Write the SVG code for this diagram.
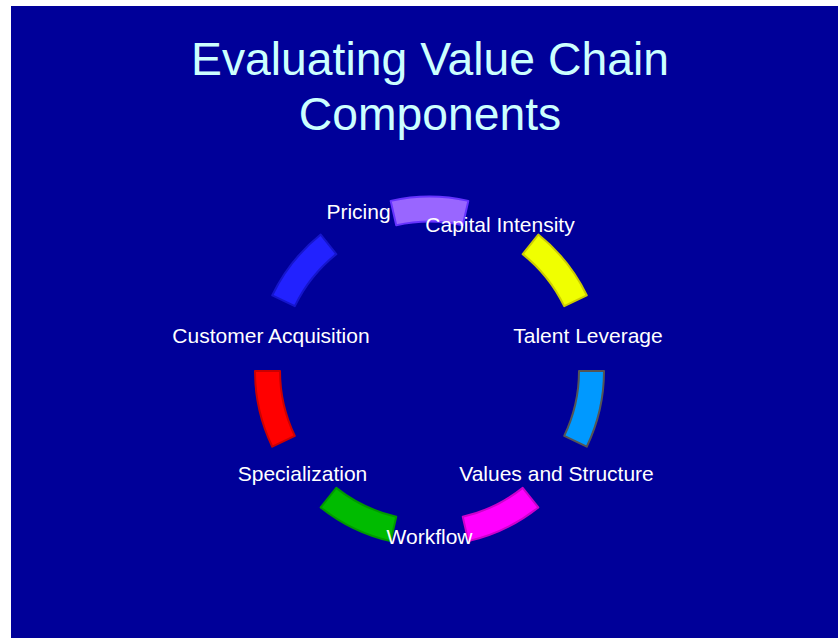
<svg xmlns="http://www.w3.org/2000/svg" width="838" height="638" viewBox="0 0 838 638">
  <defs>
    <path id="seg" d="M390.67,200.87 A174.5,174.5 0 0 1 468.33,200.87 L462.77,225.25 A149.5,149.5 0 0 0 396.23,225.25 Z"/>
  </defs>
  <style>
    .title { font-family: "Liberation Sans", Arial, sans-serif; font-size: 46.3px; fill: #CCFFFF; text-anchor: middle; }
    .lbl { font-family: "Liberation Sans", Arial, sans-serif; font-size: 21px; fill: #FFFFFF; text-anchor: middle; }
    .s { stroke-width: 2; stroke-linejoin: round; }
  </style>
  <rect x="0" y="0" width="838" height="638" fill="#FFFFFF"/>
  <rect x="11" y="6" width="827" height="632" fill="#000099"/>
  <g id="title">
    <text class="title" x="430" y="75">Evaluating Value Chain</text>
    <text class="title" x="430" y="130">Components</text>
  </g>
  <g id="connectors">
    <use href="#seg" class="s" fill="#9966FF" stroke="#6633FF"/>
    <use href="#seg" class="s" fill="#F0FF00" stroke="#CCCC00" transform="rotate(51.4286 429.5 371)"/>
    <use href="#seg" class="s" fill="#0099FF" stroke="#555555" transform="rotate(102.857 429.5 371)"/>
    <use href="#seg" class="s" fill="#FF00FF" stroke="#CC00CC" transform="rotate(154.286 429.5 371)"/>
    <use href="#seg" class="s" fill="#00BB00" stroke="#009900" transform="rotate(205.714 429.5 371)"/>
    <use href="#seg" class="s" fill="#FF0000" stroke="#CC0000" transform="rotate(257.143 429.5 371)"/>
    <use href="#seg" class="s" fill="#2222FF" stroke="#1515CC" transform="rotate(308.571 429.5 371)"/>
  </g>
  <g id="node-pricing"><text class="lbl" x="358.5" y="219">Pricing</text></g>
  <g id="node-capital-intensity"><text class="lbl" x="500" y="232">Capital Intensity</text></g>
  <g id="node-talent-leverage"><text class="lbl" x="588" y="343">Talent Leverage</text></g>
  <g id="node-values-structure"><text class="lbl" x="556.5" y="481">Values and Structure</text></g>
  <g id="node-workflow"><text class="lbl" x="429.5" y="544">Workflow</text></g>
  <g id="node-specialization"><text class="lbl" x="302.5" y="481">Specialization</text></g>
  <g id="node-customer-acquisition"><text class="lbl" x="271" y="343">Customer Acquisition</text></g>
</svg>
